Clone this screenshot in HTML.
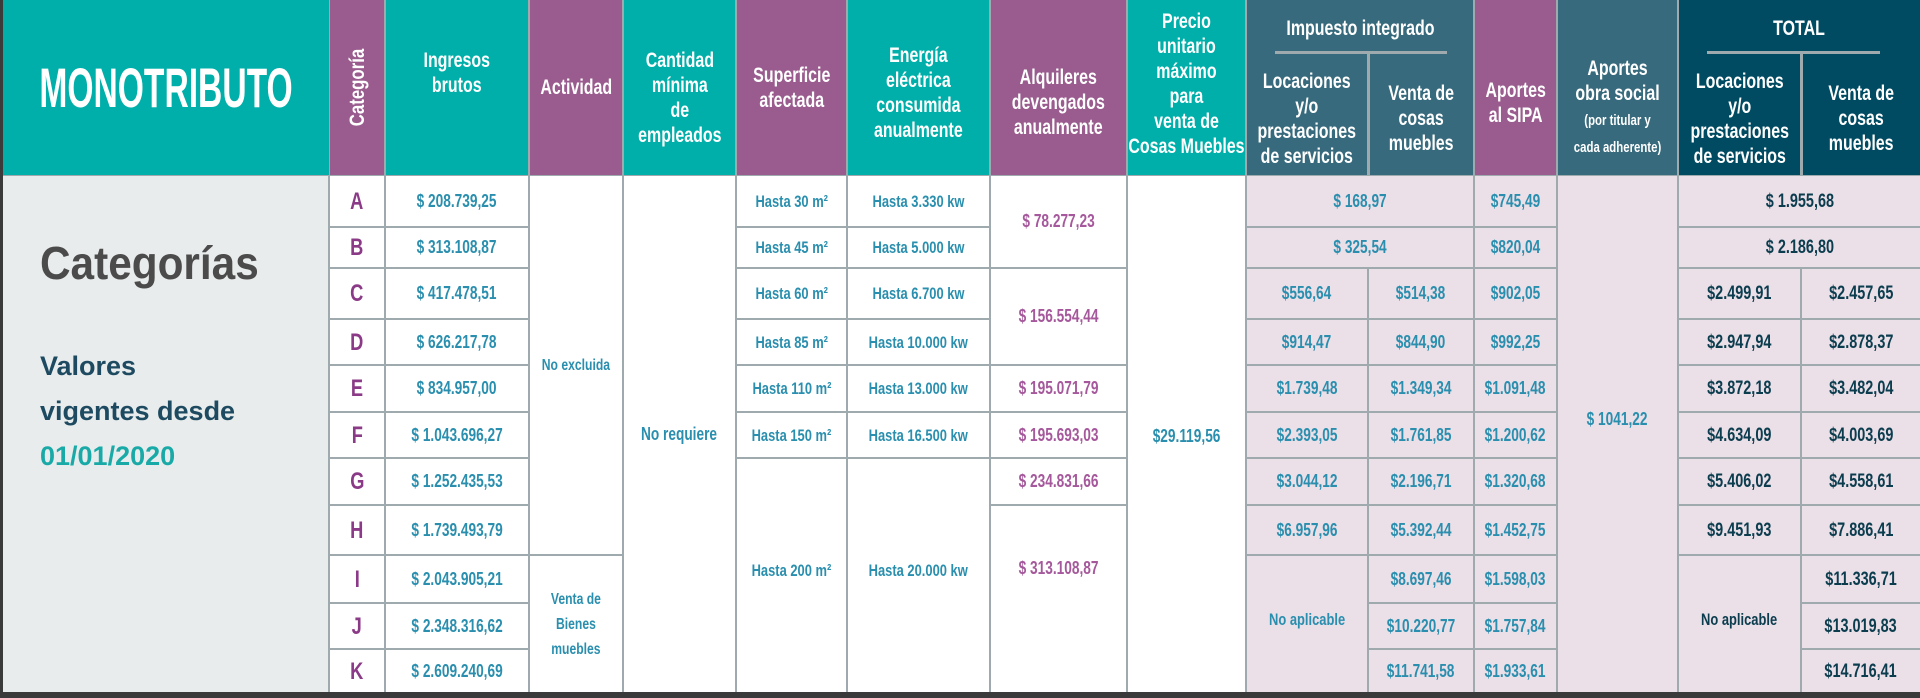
<!DOCTYPE html>
<html><head><meta charset="utf-8"><style>
*{margin:0;padding:0}
body{width:1920px;height:698px;overflow:hidden;background:#3a3a3a;position:relative;font-family:"Liberation Sans",sans-serif;font-weight:bold}
.c{position:absolute;display:flex;align-items:center;justify-content:center;text-align:center;box-sizing:border-box;font-size:18px;line-height:25px;overflow:hidden}
.c>span{display:inline-block;white-space:nowrap;transform:scaleX(.76)}
.h{color:#fff;font-size:21px}
.tq{background:#00afa9}.pu{background:#9a5c8e}.sl{background:#376a7c}.dk{background:#004b62}
.w{background:#fff}.pk{background:#ebdfe8}
.b{color:#2a8fae}.l{color:#8a3a86;font-size:24px}.a{color:#a5589b}.t{color:#0b3d4e;font-size:19px}
</style></head><body>
<div style="position:absolute;left:3px;top:0;width:1917px;height:692px;background:#9eaaae"></div>
<div class="c tq" style="left:3px;top:0;width:326px;height:175px;color:#fff;font-size:56px;line-height:60px"><span style="transform:scaleX(.6)">MONOTRIBUTO</span></div>
<div style="position:absolute;left:3px;top:176px;width:325px;height:516px;background:#e9ecec"></div>
<div style="position:absolute;left:40px;top:236px;font-size:46px;color:#4b4b4b;transform:scaleX(.92);transform-origin:left">Categorías</div>
<div style="position:absolute;left:40px;top:344px;font-size:27px;line-height:45px;color:#1d4a60">Valores<br>vigentes desde<br><span style="color:#19aaa8">01/01/2020</span></div>
<div class="c pu h" style="left:330px;top:0;width:54px;height:175px"><span style="transform:rotate(-90deg) scaleX(.8)">Categoría</span></div>
<div class="c tq h" style="left:386px;top:0;width:142px;height:175px;padding-bottom:30px"><span>Ingresos<br>brutos</span></div>
<div class="c pu h" style="left:530px;top:0;width:92px;height:175px"><span>Actividad</span></div>
<div class="c tq h" style="left:624px;top:0;width:111px;height:175px;padding-top:20px"><span>Cantidad<br>mínima<br>de<br>empleados</span></div>
<div class="c pu h" style="left:737px;top:0;width:109px;height:175px"><span>Superficie<br>afectada</span></div>
<div class="c tq h" style="left:848px;top:0;width:141px;height:175px;padding-top:10px"><span>Energía<br>eléctrica<br>consumida<br>anualmente</span></div>
<div class="c pu h" style="left:991px;top:0;width:135px;height:175px;padding-top:30px"><span>Alquileres<br>devengados<br>anualmente</span></div>
<div class="c tq h" style="left:1128px;top:0;width:117px;height:175px;padding-bottom:8px"><span>Precio<br>unitario<br>máximo<br>para<br>venta de<br>Cosas Muebles</span></div>
<div class="c sl h" style="left:1247px;top:0;width:226px;height:175px;align-items:flex-start;padding-top:16px"><span>Impuesto integrado</span></div>
<div style="position:absolute;left:1275px;top:51px;width:172px;height:3px;background:#9eaaae"></div>
<div style="position:absolute;left:1367px;top:52px;width:3px;height:123px;background:#9eaaae"></div>
<div class="c h" style="left:1247px;top:54px;width:120px;height:121px;padding-top:8px"><span>Locaciones<br>y/o<br>prestaciones<br>de servicios</span></div>
<div class="c h" style="left:1370px;top:54px;width:103px;height:121px;padding-top:8px"><span>Venta de<br>cosas<br>muebles</span></div>
<div class="c pu h" style="left:1475px;top:0;width:81px;height:175px;padding-top:30px"><span>Aportes<br>al SIPA</span></div>
<div class="c sl h" style="left:1558px;top:0;width:119px;height:175px;padding-top:40px"><span>Aportes<br>obra social<br><span style="font-size:15px">(por titular y<br>cada adherente)</span></span></div>
<div class="c dk h" style="left:1679px;top:0;width:241px;height:175px;align-items:flex-start;padding-top:16px"><span>TOTAL</span></div>
<div style="position:absolute;left:1707px;top:51px;width:173px;height:3px;background:#9eaaae"></div>
<div style="position:absolute;left:1800px;top:52px;width:3px;height:123px;background:#9eaaae"></div>
<div class="c h" style="left:1679px;top:54px;width:121px;height:121px;padding-top:8px"><span>Locaciones<br>y/o<br>prestaciones<br>de servicios</span></div>
<div class="c h" style="left:1803px;top:54px;width:117px;height:121px;padding-top:8px"><span>Venta de<br>cosas<br>muebles</span></div>

<div class="c w l" style="left:330px;top:176px;width:54px;height:50px"><span>A</span></div><div class="c w b" style="left:386px;top:176px;width:142px;height:50px"><span>$ 208.739,25</span></div>
<div class="c w l" style="left:330px;top:228px;width:54px;height:39px"><span>B</span></div><div class="c w b" style="left:386px;top:228px;width:142px;height:39px"><span>$ 313.108,87</span></div>
<div class="c w l" style="left:330px;top:269px;width:54px;height:49px"><span>C</span></div><div class="c w b" style="left:386px;top:269px;width:142px;height:49px"><span>$ 417.478,51</span></div>
<div class="c w l" style="left:330px;top:320px;width:54px;height:44px"><span>D</span></div><div class="c w b" style="left:386px;top:320px;width:142px;height:44px"><span>$ 626.217,78</span></div>
<div class="c w l" style="left:330px;top:366px;width:54px;height:45px"><span>E</span></div><div class="c w b" style="left:386px;top:366px;width:142px;height:45px"><span>$ 834.957,00</span></div>
<div class="c w l" style="left:330px;top:413px;width:54px;height:44px"><span>F</span></div><div class="c w b" style="left:386px;top:413px;width:142px;height:44px"><span>$ 1.043.696,27</span></div>
<div class="c w l" style="left:330px;top:459px;width:54px;height:45px"><span>G</span></div><div class="c w b" style="left:386px;top:459px;width:142px;height:45px"><span>$ 1.252.435,53</span></div>
<div class="c w l" style="left:330px;top:506px;width:54px;height:48px"><span>H</span></div><div class="c w b" style="left:386px;top:506px;width:142px;height:48px"><span>$ 1.739.493,79</span></div>
<div class="c w l" style="left:330px;top:556px;width:54px;height:46px"><span>I</span></div><div class="c w b" style="left:386px;top:556px;width:142px;height:46px"><span>$ 2.043.905,21</span></div>
<div class="c w l" style="left:330px;top:604px;width:54px;height:44px"><span>J</span></div><div class="c w b" style="left:386px;top:604px;width:142px;height:44px"><span>$ 2.348.316,62</span></div>
<div class="c w l" style="left:330px;top:650px;width:54px;height:42px"><span>K</span></div><div class="c w b" style="left:386px;top:650px;width:142px;height:42px"><span>$ 2.609.240,69</span></div>
<div class="c w b" style="left:530px;top:176px;width:92px;height:378px;font-size:16px"><span>No excluida</span></div>
<div class="c w b" style="left:530px;top:556px;width:92px;height:136px;font-size:16px"><span>Venta de<br>Bienes<br>muebles</span></div>
<div class="c w b" style="left:624px;top:176px;width:111px;height:516px;font-size:18px"><span>No requiere</span></div>
<div class="c w b" style="left:737px;top:176px;width:109px;height:50px;font-size:17px"><span>Hasta 30 m²</span></div><div class="c w b" style="left:848px;top:176px;width:141px;height:50px;font-size:17px"><span>Hasta 3.330 kw</span></div>
<div class="c w b" style="left:737px;top:228px;width:109px;height:39px;font-size:17px"><span>Hasta 45 m²</span></div><div class="c w b" style="left:848px;top:228px;width:141px;height:39px;font-size:17px"><span>Hasta 5.000 kw</span></div>
<div class="c w b" style="left:737px;top:269px;width:109px;height:49px;font-size:17px"><span>Hasta 60 m²</span></div><div class="c w b" style="left:848px;top:269px;width:141px;height:49px;font-size:17px"><span>Hasta 6.700 kw</span></div>
<div class="c w b" style="left:737px;top:320px;width:109px;height:44px;font-size:17px"><span>Hasta 85 m²</span></div><div class="c w b" style="left:848px;top:320px;width:141px;height:44px;font-size:17px"><span>Hasta 10.000 kw</span></div>
<div class="c w b" style="left:737px;top:366px;width:109px;height:45px;font-size:17px"><span>Hasta 110 m²</span></div><div class="c w b" style="left:848px;top:366px;width:141px;height:45px;font-size:17px"><span>Hasta 13.000 kw</span></div>
<div class="c w b" style="left:737px;top:413px;width:109px;height:44px;font-size:17px"><span>Hasta 150 m²</span></div><div class="c w b" style="left:848px;top:413px;width:141px;height:44px;font-size:17px"><span>Hasta 16.500 kw</span></div>
<div class="c w b" style="left:737px;top:459px;width:109px;height:233px;font-size:17px;padding-bottom:10px"><span>Hasta 200 m²</span></div><div class="c w b" style="left:848px;top:459px;width:141px;height:233px;font-size:17px;padding-bottom:10px"><span>Hasta 20.000 kw</span></div>
<div class="c w a" style="left:991px;top:176px;width:135px;height:91px"><span>$ 78.277,23</span></div>
<div class="c w a" style="left:991px;top:269px;width:135px;height:95px"><span>$ 156.554,44</span></div>
<div class="c w a" style="left:991px;top:366px;width:135px;height:45px"><span>$ 195.071,79</span></div>
<div class="c w a" style="left:991px;top:413px;width:135px;height:44px"><span>$ 195.693,03</span></div>
<div class="c w a" style="left:991px;top:459px;width:135px;height:45px"><span>$ 234.831,66</span></div>
<div class="c w a" style="left:991px;top:506px;width:135px;height:186px;align-items:flex-start;padding-top:50px"><span>$ 313.108,87</span></div>
<div class="c w b" style="left:1128px;top:176px;width:117px;height:516px;padding-top:4px"><span>$29.119,56</span></div>
<div class="c pk b" style="left:1247px;top:176px;width:226px;height:50px"><span>$ 168,97</span></div>
<div class="c pk b" style="left:1247px;top:228px;width:226px;height:39px"><span>$ 325,54</span></div>
<div class="c pk b" style="left:1247px;top:269px;width:120px;height:49px"><span>$556,64</span></div><div class="c pk b" style="left:1369px;top:269px;width:104px;height:49px"><span>$514,38</span></div>
<div class="c pk b" style="left:1247px;top:320px;width:120px;height:44px"><span>$914,47</span></div><div class="c pk b" style="left:1369px;top:320px;width:104px;height:44px"><span>$844,90</span></div>
<div class="c pk b" style="left:1247px;top:366px;width:120px;height:45px"><span>$1.739,48</span></div><div class="c pk b" style="left:1369px;top:366px;width:104px;height:45px"><span>$1.349,34</span></div>
<div class="c pk b" style="left:1247px;top:413px;width:120px;height:44px"><span>$2.393,05</span></div><div class="c pk b" style="left:1369px;top:413px;width:104px;height:44px"><span>$1.761,85</span></div>
<div class="c pk b" style="left:1247px;top:459px;width:120px;height:45px"><span>$3.044,12</span></div><div class="c pk b" style="left:1369px;top:459px;width:104px;height:45px"><span>$2.196,71</span></div>
<div class="c pk b" style="left:1247px;top:506px;width:120px;height:48px"><span>$6.957,96</span></div><div class="c pk b" style="left:1369px;top:506px;width:104px;height:48px"><span>$5.392,44</span></div>
<div class="c pk b" style="left:1247px;top:556px;width:120px;height:136px;font-size:17px;padding-bottom:10px"><span>No aplicable</span></div>
<div class="c pk b" style="left:1369px;top:556px;width:104px;height:46px"><span>$8.697,46</span></div>
<div class="c pk b" style="left:1369px;top:604px;width:104px;height:44px"><span>$10.220,77</span></div>
<div class="c pk b" style="left:1369px;top:650px;width:104px;height:42px"><span>$11.741,58</span></div>
<div class="c pk b" style="left:1475px;top:176px;width:81px;height:50px"><span>$745,49</span></div>
<div class="c pk b" style="left:1475px;top:228px;width:81px;height:39px"><span>$820,04</span></div>
<div class="c pk b" style="left:1475px;top:269px;width:81px;height:49px"><span>$902,05</span></div>
<div class="c pk b" style="left:1475px;top:320px;width:81px;height:44px"><span>$992,25</span></div>
<div class="c pk b" style="left:1475px;top:366px;width:81px;height:45px"><span>$1.091,48</span></div>
<div class="c pk b" style="left:1475px;top:413px;width:81px;height:44px"><span>$1.200,62</span></div>
<div class="c pk b" style="left:1475px;top:459px;width:81px;height:45px"><span>$1.320,68</span></div>
<div class="c pk b" style="left:1475px;top:506px;width:81px;height:48px"><span>$1.452,75</span></div>
<div class="c pk b" style="left:1475px;top:556px;width:81px;height:46px"><span>$1.598,03</span></div>
<div class="c pk b" style="left:1475px;top:604px;width:81px;height:44px"><span>$1.757,84</span></div>
<div class="c pk b" style="left:1475px;top:650px;width:81px;height:42px"><span>$1.933,61</span></div>
<div class="c pk b" style="left:1558px;top:176px;width:119px;height:516px;padding-bottom:30px"><span>$ 1041,22</span></div>
<div class="c pk t" style="left:1679px;top:176px;width:241px;height:50px"><span>$ 1.955,68</span></div>
<div class="c pk t" style="left:1679px;top:228px;width:241px;height:39px"><span>$ 2.186,80</span></div>
<div class="c pk t" style="left:1679px;top:269px;width:121px;height:49px"><span>$2.499,91</span></div><div class="c pk t" style="left:1802px;top:269px;width:118px;height:49px"><span>$2.457,65</span></div>
<div class="c pk t" style="left:1679px;top:320px;width:121px;height:44px"><span>$2.947,94</span></div><div class="c pk t" style="left:1802px;top:320px;width:118px;height:44px"><span>$2.878,37</span></div>
<div class="c pk t" style="left:1679px;top:366px;width:121px;height:45px"><span>$3.872,18</span></div><div class="c pk t" style="left:1802px;top:366px;width:118px;height:45px"><span>$3.482,04</span></div>
<div class="c pk t" style="left:1679px;top:413px;width:121px;height:44px"><span>$4.634,09</span></div><div class="c pk t" style="left:1802px;top:413px;width:118px;height:44px"><span>$4.003,69</span></div>
<div class="c pk t" style="left:1679px;top:459px;width:121px;height:45px"><span>$5.406,02</span></div><div class="c pk t" style="left:1802px;top:459px;width:118px;height:45px"><span>$4.558,61</span></div>
<div class="c pk t" style="left:1679px;top:506px;width:121px;height:48px"><span>$9.451,93</span></div><div class="c pk t" style="left:1802px;top:506px;width:118px;height:48px"><span>$7.886,41</span></div>
<div class="c pk t" style="left:1679px;top:556px;width:121px;height:136px;font-size:17px;padding-bottom:10px"><span>No aplicable</span></div>
<div class="c pk t" style="left:1802px;top:556px;width:118px;height:46px"><span>$11.336,71</span></div>
<div class="c pk t" style="left:1802px;top:604px;width:118px;height:44px"><span>$13.019,83</span></div>
<div class="c pk t" style="left:1802px;top:650px;width:118px;height:42px"><span>$14.716,41</span></div>
</body></html>
